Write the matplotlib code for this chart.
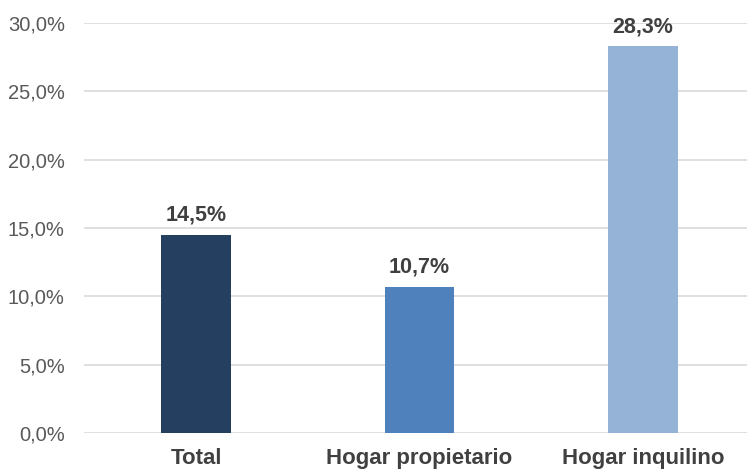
import matplotlib.pyplot as plt
import numpy as np

plt.rcParams['font.family'] = ['Liberation Sans', 'DejaVu Sans']

categories = ['Total', 'Hogar propietario', 'Hogar inquilino']
values = [14.5, 10.7, 28.3]
colors = ['#243F60', '#4F81BD', '#95B3D7']
yticks = [0, 5, 10, 15, 20, 25, 30]


def fmt(v):
    return ('%.1f%%' % v).replace('.', ',')


def main():
    fig = plt.figure(figsize=(7.47, 4.70), dpi=100)
    ax = fig.add_axes([0.1128, 0.0787, 0.8976, 0.8723])

    ind = np.arange(len(categories))
    rects = ax.bar(ind, values, 0.313, color=colors, zorder=3)

    ax.set_xlim(-0.5, 2.5)
    ax.set_ylim(0, 30)
    ax.set_yticks(yticks)
    ax.set_yticklabels([fmt(t) for t in yticks], fontsize=14.5, color='#595959')
    ax.set_xticks(ind)
    ax.set_xticklabels(categories, fontsize=16, fontweight='bold', color='#404040')
    ax.tick_params(axis='both', length=0)
    ax.tick_params(axis='y', pad=14)
    ax.tick_params(axis='x', pad=11)
    ax.grid(axis='y', color='#D9D9D9', linewidth=1.2, zorder=0)
    for s in ax.spines.values():
        s.set_visible(False)

    for r, v in zip(rects, values):
        ax.text(r.get_x() + r.get_width() / 2, v + 0.65, fmt(v), ha='center',
                va='bottom', fontsize=15.5, fontweight='bold', color='#404040')

    fig.savefig('out.png', dpi=100)


if __name__ == "__main__":
    main()
